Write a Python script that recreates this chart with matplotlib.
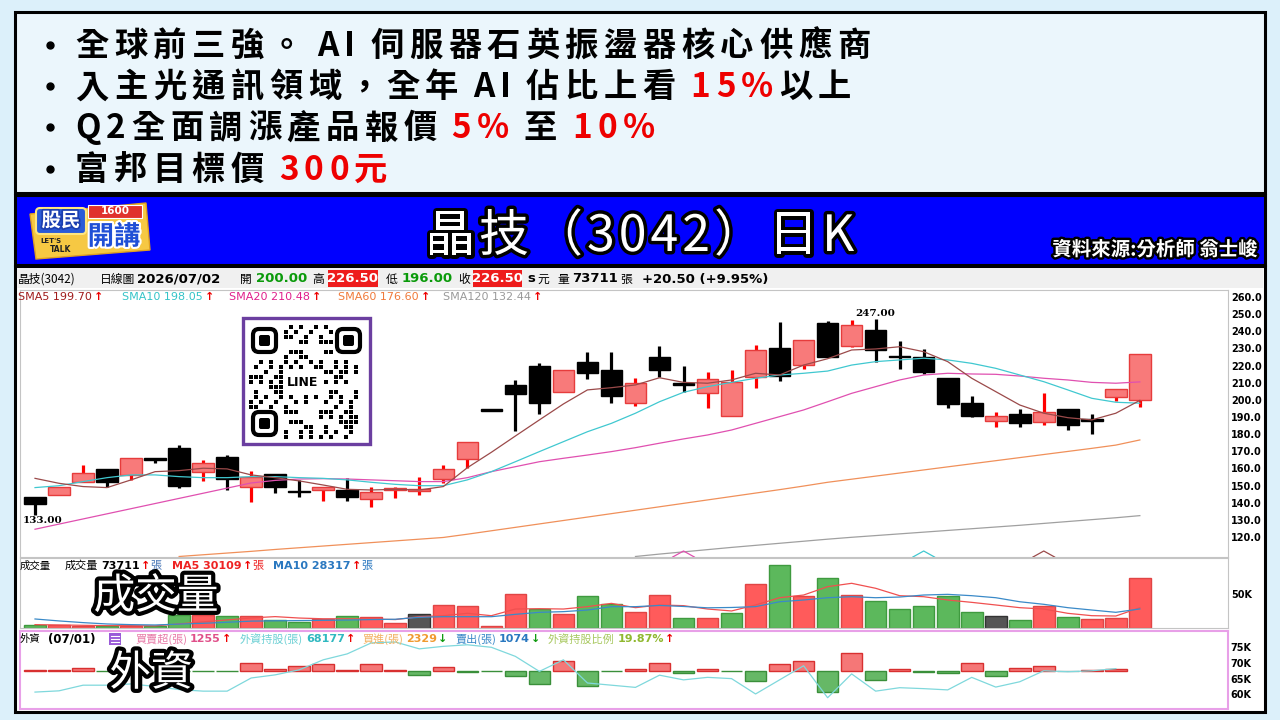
import matplotlib
matplotlib.use("Agg")
import numpy as np
import matplotlib.pyplot as plt
import matplotlib.patheffects as pe
from matplotlib.patches import Rectangle, FancyBboxPatch, Polygon

plt.rcParams['font.family'] = ['Noto Sans CJK TC', 'DejaVu Sans']

W, H = 1280, 720

# ---- daily candles ----
opens = [143.5, 144.5, 151.9, 159.7, 156.2, 166.1, 172.1, 157.7, 166.5, 149.4,
         156.6, 146.8, 147.4, 147.4, 142.2, 147.4, 147.0, 153.8, 165.3, 193.5,
         208.7, 220.0, 204.8, 222.3, 217.4, 198.4, 225.2, 209.8, 203.8, 190.8,
         213.5, 230.1, 220.3, 244.7, 231.6, 240.8, 225.7, 225.2, 212.9, 198.4,
         187.9, 191.8, 186.9, 194.5, 188.1, 201.9, 200.0]
closes = [139.1, 149.3, 157.2, 152.3, 165.9, 165.1, 149.9, 163.0, 153.8, 155.2,
          149.0, 146.2, 149.4, 143.5, 146.5, 148.2, 148.0, 159.7, 175.6, 193.5,
          203.3, 198.0, 217.6, 215.5, 202.5, 209.7, 217.4, 208.8, 212.0, 210.6,
          229.1, 214.1, 234.9, 224.8, 243.7, 229.1, 224.8, 216.1, 197.8, 190.4,
          190.6, 186.7, 193.1, 185.3, 187.7, 206.2, 226.5]
highs = [143.5, 149.3, 161.7, 159.7, 165.9, 166.1, 173.7, 164.9, 167.8, 158.7,
         156.6, 153.3, 149.4, 154.6, 149.4, 149.4, 155.2, 162.0, 175.6, 193.5,
         211.6, 221.3, 217.6, 228.1, 227.8, 213.0, 231.4, 220.0, 216.1, 217.4,
         232.0, 245.3, 234.9, 246.0, 246.5, 247.0, 234.4, 229.5, 212.9, 202.3,
         193.1, 194.7, 203.8, 194.5, 191.8, 206.2, 226.5]
lows = [133.0, 144.5, 151.9, 149.0, 153.3, 163.4, 148.4, 152.7, 147.4, 140.2,
        145.8, 143.5, 141.2, 141.2, 137.7, 142.6, 144.5, 151.3, 160.4, 193.5,
        181.8, 191.8, 204.8, 212.0, 198.0, 196.4, 213.5, 204.4, 195.1, 190.8,
        207.1, 211.0, 218.0, 224.8, 231.0, 222.3, 218.0, 215.1, 195.1, 189.8,
        184.2, 184.4, 185.3, 182.4, 180.1, 199.4, 196.0]

sma5 = [154.2, 151.3, 149.4, 148.8, 153.3, 158.1, 158.7, 160.1, 159.7, 156.2,
        154.6, 152.7, 150.3, 147.8, 147.4, 147.8, 147.4, 149.4, 160.4, 169.4,
        178.9, 188.3, 197.6, 205.8, 207.1, 208.7, 212.9, 210.2, 209.7, 211.6,
        215.5, 214.5, 220.3, 224.0, 229.1, 229.7, 231.0, 228.1, 222.3, 212.6,
        204.8, 197.0, 192.2, 189.6, 188.3, 192.2, 199.7]
sma10 = [148.8, 149.9, 152.3, 154.6, 156.2, 156.2, 155.2, 154.6, 154.6, 155.2,
         155.2, 154.6, 154.2, 153.3, 151.9, 150.7, 149.9, 149.9, 153.3, 158.1,
         163.9, 169.8, 175.6, 181.4, 186.3, 192.2, 198.9, 204.4, 207.7, 210.2,
         212.6, 214.5, 215.5, 216.8, 220.3, 222.3, 223.3, 224.3, 223.3, 221.3,
         218.4, 214.5, 210.6, 205.8, 200.9, 198.6, 198.05]
sma20 = [124.5, 127.5, 130.5, 133.5, 136.5, 139.5, 142.5, 145.5, 148.5, 151.5,
         153.0, 153.8, 154.0, 153.8, 153.3, 152.8, 152.3, 152.3, 154.6, 158.1,
         161.0, 163.9, 165.9, 167.8, 169.8, 172.1, 174.7, 177.2, 179.5, 182.4,
         186.3, 190.2, 194.1, 198.9, 203.8, 207.7, 211.6, 214.5, 215.5, 215.1,
         214.9, 213.9, 212.6, 211.6, 210.2, 209.7, 210.48]
sma60 = [None, None, None, None, None, None, 108.6, 109.6, 110.6, 111.6,
         112.7, 113.7, 114.7, 115.7, 116.7, 117.7, 118.7, 119.7, 121.6, 123.6,
         125.6, 127.6, 129.6, 131.6, 133.6, 135.6, 137.6, 139.6, 141.6, 143.6,
         145.6, 147.6, 149.7, 151.9, 153.7, 155.5, 157.3, 159.1, 160.9, 162.7,
         164.5, 166.3, 168.1, 169.9, 171.7, 173.6, 176.6]
sma120 = [None] * 25 + [108.6, 110.0, 111.3, 112.6, 113.9, 115.1, 116.3, 117.5,
                        118.7, 119.8, 120.8, 121.8, 122.8, 123.8, 124.8, 125.8,
                        126.8, 127.9, 129.0, 130.1, 131.2, 132.44]

# crossing signals drawn as small carets at the bottom of the price panel
sig_idx = [27, 37, 42]
sig_col = ['#e050b0', '#40c8d0', '#9b4a4a']

# ---- volume (K 張) ----
volume = [4.0, 4.0, 3.5, 2.5, 3.5, 2.5, 18.8, 18.8, 17.3, 17.3,
          12.4, 8.4, 12.9, 17.3, 16.3, 7.4, 21.3, 33.7, 32.2, 2.5,
          51.0, 28.7, 20.3, 47.0, 35.2, 23.3, 49.0, 14.4, 15.4, 21.8,
          65.4, 93.0, 48.0, 74.3, 49.0, 40.6, 28.7, 32.2, 47.0, 23.3,
          18.3, 11.9, 33.2, 16.3, 12.9, 14.4, 73.711]
vol_dir = list("grrgrggrgrggrgrrkrrrrgrggrrgrgrgrgrgggggkgrgrrr")
vol_ma5 = [5.0, 4.5, 4.0, 3.5, 3.5, 3.2, 6.0, 9.1, 12.0, 15.0,
           16.9, 14.8, 13.7, 13.7, 13.5, 12.5, 16.8, 18.3, 21.8, 18.3,
           28.2, 28.7, 28.2, 31.7, 36.6, 30.2, 34.2, 33.2, 28.2, 25.3,
           34.2, 45.0, 49.0, 61.4, 66.4, 59.0, 48.0, 46.5, 41.6, 38.1,
           34.2, 30.2, 28.2, 21.8, 18.3, 17.8, 30.1]
vol_ma10 = [13.4, 10.5, 8.0, 6.0, 5.0, 4.5, 5.8, 7.0, 8.5, 10.2,
            10.7, 11.0, 11.4, 11.8, 12.5, 13.0, 15.9, 16.8, 16.8, 16.8,
            20.3, 23.3, 24.3, 26.7, 31.7, 31.7, 33.5, 32.0, 30.0, 30.5,
            31.7, 39.0, 41.6, 45.0, 46.5, 45.0, 46.0, 49.0, 50.0, 48.0,
            45.0, 39.0, 35.2, 30.2, 26.7, 23.3, 28.3]

# ---- foreign investors (data up to 07/01) ----
fx_net = [500, 300, 1400, -200, -200, -200, -200, -200, -200, 4800,
          1200, 3000, 4200, 600, 3900, 300, -2800, 2000, -600, -200,
          -3400, -7800, 6000, -9400, -200, 1200, 4400, -1400, 1200, -200,
          -6400, 4000, 6000, -12600, 10700, -5400, 1200, -500, -1200, 4400,
          -3400, 1600, 3000, 0, 500, 1255]
fx_hold = [60.7, 61.1, 62.9, 62.9, 63.3, 62.5, 61.5, 61.0, 61.0, 65.2,
           66.2, 67.8, 71.0, 72.9, 76.4, 76.7, 74.5, 75.3, 75.8, 75.0,
           72.1, 67.3, 71.0, 63.6, 62.9, 62.2, 66.1, 64.6, 65.4, 65.0,
           60.1, 64.6, 69.1, 58.9, 66.5, 61.0, 62.1, 61.8, 61.4, 65.4,
           62.3, 64.0, 67.5, 67.2, 67.5, 68.18]

price_ticks = list(range(120, 261, 10))
fx_ticks = [60, 65, 70, 75]

headline = [
    [("全球前三強。 AI 伺服器石英振盪器核心供應商", 'black')],
    [("入主光通訊領域，全年 AI 佔比上看 ", 'black'), ("15%", '#ee0000'), ("以上", 'black')],
    [("Q2全面調漲產品報價 ", 'black'), ("5%", '#ee0000'), (" 至 ", 'black'), ("10%", '#ee0000')],
    [("富邦目標價 ", 'black'), ("300元", '#ee0000')],
]


def box(x0, y0, x1, y1):
    return [x0 / W, 1 - y1 / H, (x1 - x0) / W, (y1 - y0) / H]


fig = plt.figure(figsize=(12.8, 7.2), dpi=100)
fig.patch.set_facecolor('#dcf0fa')

bg = fig.add_axes([0, 0, 1, 1], zorder=0)
bg.set_xlim(0, W)
bg.set_ylim(H, 0)
bg.axis('off')
bg.add_patch(Rectangle((15, 12), 1250, 181, fc='#ebf6fc', ec='black', lw=2.2))
bg.add_patch(Rectangle((15, 195), 1250, 70, fc='#0000ff', ec='black', lw=2.2))
bg.add_patch(Rectangle((15, 266), 1250, 446, fc='white', ec='black', lw=2.2))
bg.add_patch(Rectangle((17, 268), 1246, 20, fc='#f0f0f0', ec='none'))

fg = fig.add_axes([0, 0, 1, 1], zorder=10)
fg.set_xlim(0, W)
fg.set_ylim(H, 0)
fg.axis('off')
rend = fig.canvas.get_renderer()
LAT = ['DejaVu Sans']


def outline(t, lw, col='black'):
    t.set_path_effects([pe.withStroke(linewidth=lw, foreground=col)])


def spaced(x, y, parts, size, track, weight='bold', stroke=None):
    em = size * 100 / 72
    for s, color in parts:
        for ch in s:
            if ch == ' ':
                x += em * 0.28
                continue
            t = fg.text(x, y, ch, fontsize=size, color=color, weight=weight,
                        ha='left', va='baseline')
            if stroke:
                outline(t, stroke)
            x = t.get_window_extent(rend).x1 + track
    return x


def seq(x, y, parts, size=8):
    for s, color, weight, gap, fam in parts:
        kw = {'family': fam} if fam else {}
        t = fg.text(x, y, s, fontsize=size, color=color, weight=weight,
                    ha='left', va='center', **kw)
        x = t.get_window_extent(rend).x1 + gap
    return x


# ---- headline box ----
for k, parts in enumerate(headline):
    base = 56 + k * 41.2
    fg.plot(50, base - 11, marker='o', ms=5, color='black')
    spaced(75, base, parts, 24, 5.5)

# ---- banner ----
spaced(425, 251, [("晶技（3042）日K", 'white')], 36, 4, weight='normal', stroke=5)
t = fg.text(1258, 250, "資料來源:分析師 翁士峻", fontsize=14, color='white',
            weight='bold', ha='right', va='center')
outline(t, 3.5)

# logo
fg.add_patch(Polygon([(30, 214), (146, 203), (150, 250), (36, 259)], closed=True,
                     fc='#f6c843', ec='#e0a020', lw=1))
fg.add_patch(FancyBboxPatch((36, 208), 50, 26, boxstyle='round,pad=0,rounding_size=4',
                            fc='#2a5bd7', ec='#ffe680', lw=1.5))
t = fg.text(61, 221, "股民", fontsize=14, color='white', weight='bold', ha='center', va='center')
outline(t, 2.5, '#1c3fb0')
fg.add_patch(Rectangle((88, 205), 54, 13, fc='#e0312d', ec='white', lw=0.8))
fg.text(115, 211.5, "1600", fontsize=7.5, color='white', weight='bold', ha='center',
        va='center', family=LAT)
fg.text(40, 241, "LET'S", fontsize=5, color='#222222', weight='bold', va='center', family=LAT)
fg.text(50, 250, "TALK", fontsize=5.5, color='#222222', weight='bold', va='center', family=LAT)
t = fg.text(114, 237, "開講", fontsize=19, color='#1f4fd6', weight='bold', ha='center', va='center')
outline(t, 3, 'white')

# ---- info row ----
ym = 279
info = [(18, "晶技(3042)", 'black', 'normal', None),
        (100, "日線圖", 'black', 'normal', None),
        (137, "2026/07/02", 'black', 'bold', LAT),
        (240, "開", 'black', 'normal', None),
        (256, "200.00", '#0a9a0a', 'bold', LAT),
        (312, "高", 'black', 'normal', None),
        (386, "低", 'black', 'normal', None),
        (402, "196.00", '#0a9a0a', 'bold', LAT),
        (458, "收", 'black', 'normal', None),
        (527, "s", 'black', 'bold', LAT),
        (537, "元", 'black', 'normal', None),
        (557, "量", 'black', 'normal', None),
        (572, "73711", 'black', 'bold', LAT),
        (620, "張", 'black', 'normal', None),
        (642, "+20.50 (+9.95%)", 'black', 'bold', LAT)]
for x0, s, col, wt, fam in info:
    kw = {'family': fam} if fam else {}
    fg.text(x0, ym, s, fontsize=9.5 if fam else 8.5, color=col, weight=wt,
            ha='left', va='center', **kw)
for x0, x1 in ((328, 378), (473, 522)):
    fg.add_patch(Rectangle((x0, 270), x1 - x0, 17, fc='#ee1c1c', ec='none'))
    fg.text((x0 + x1) / 2, ym, "226.50", fontsize=9.5, color='white', weight='bold',
            ha='center', va='center', family=LAT)

# ---- SMA legend ----
sma_lab = [(18, "SMA5 199.70", '#a01c1c'), (122, "SMA10 198.05", '#35c4c8'),
           (229, "SMA20 210.48", '#e0208c'), (338, "SMA60 176.60", '#f07a3a'),
           (443, "SMA120 132.44", '#9a9a9a')]
for x0, s, col in sma_lab:
    seq(x0, 297, [(s, col, 'normal', 2, LAT), ("↑", '#ee0000', 'bold', 0, LAT)], 8)

# ---- price panel ----
ax = fig.add_axes(box(20, 290, 1228, 557), zorder=2)
x = np.arange(len(opens))
o, c, h, l = (np.array(v, dtype=float) for v in (opens, closes, highs, lows))
up = c > o
for sel, wick, face, edge in ((up, '#ff0000', '#f87a7a', '#e63c3c'),
                              (~up, '#000000', '#000000', '#000000')):
    ax.vlines(x[sel], l[sel], h[sel], color=wick, lw=2.3, zorder=2)
    lo = np.minimum(o, c)[sel]
    hh = np.maximum(np.abs(c - o)[sel], 0.9)
    ax.bar(x[sel], hh, 0.9, bottom=lo, color=face, edgecolor=edge, lw=1, zorder=3)

for vals, col in ((sma120, '#a0a0a0'), (sma60, '#f0905a'), (sma20, '#e050b0'),
                  (sma10, '#40c8d0'), (sma5, '#9b4a4a')):
    ax.plot(x, np.array(vals, dtype=float), color=col, lw=0.9, zorder=4)

ax.set_xlim(-0.625, 49.67)
ax.set_ylim(108.3, 264.1)
for i, col in zip(sig_idx, sig_col):
    ax.plot([i - 0.45, i, i + 0.45], [108.3, 111.8, 108.3], color=col, lw=0.9, zorder=4)

imin = int(np.argmin(l))
imax = int(np.argmax(h))
ax.text(imin - 0.5, l[imin] - 3.6, f"{l[imin]:.2f}", fontsize=7.5, weight='bold',
        family=['DejaVu Serif'], ha='left', va='center', zorder=5)
ax.text(imax, h[imax] + 3.6, f"{h[imax]:.2f}", fontsize=7.5, weight='bold',
        family=['DejaVu Serif'], ha='center', va='center', zorder=5)

ax.set_yticks(price_ticks)
ax.set_yticklabels([f"{v:.1f}" for v in price_ticks], family=LAT, weight='bold', fontsize=7)
ax.yaxis.tick_right()
ax.tick_params(axis='y', length=0, pad=2)
ax.tick_params(axis='x', length=0, labelbottom=False)
for sp in ax.spines.values():
    sp.set_color('#c4c4c4')

# ---- volume panel ----
axv = fig.add_axes(box(20, 558, 1228, 628), zorder=2)
vcol = {'r': ('#ff5b5b', '#e04545'), 'g': ('#5cb85c', '#3f9a3f'), 'k': ('#555555', '#333333')}
axv.bar(x, volume, 0.9, color=[vcol[d][0] for d in vol_dir],
        edgecolor=[vcol[d][1] for d in vol_dir], lw=1, zorder=2)
axv.plot(x, vol_ma5, color='#f05050', lw=0.9, zorder=3)
axv.plot(x, vol_ma10, color='#3a8ac8', lw=0.9, zorder=3)
axv.set_xlim(-0.625, 49.67)
axv.set_ylim(0, 104)
axv.set_yticks([50])
axv.set_yticklabels(["50K"], family=LAT, weight='bold', fontsize=7)
axv.yaxis.tick_right()
axv.tick_params(axis='y', length=0, pad=2)
axv.tick_params(axis='x', length=0, labelbottom=False)
for sp in axv.spines.values():
    sp.set_color('#c4c4c4')

fg.text(20, 566, "成交量", fontsize=7.5, color='black', va='center')
seq(65, 566, [("成交量", 'black', 'normal', 3, None), ("73711", 'black', 'bold', 1, LAT),
              ("↑", '#ee0000', 'bold', 0, LAT), ("張", '#4a78b8', 'normal', 0, None)], 8)
seq(172, 566, [("MA5 30109", '#ee2222', 'bold', 1, LAT), ("↑", '#ee0000', 'bold', 0, LAT),
               ("張", '#ee2222', 'normal', 0, None)], 8)
seq(273, 566, [("MA10 28317", '#2a78c0', 'bold', 1, LAT), ("↑", '#ee0000', 'bold', 0, LAT),
               ("張", '#2a78c0', 'normal', 0, None)], 8)
t = fg.text(156, 597, "成交量", fontsize=30, color='white', ha='center', va='center')
outline(t, 6)

# ---- foreign investors panel ----
axf = fig.add_axes(box(20, 631, 1228, 709), zorder=2)
xf = np.arange(len(fx_net))
net = np.array(fx_net, dtype=float)
fcol = np.where(net > 0, '#f57777', np.where(net < 0, '#66b866', '#bbbbbb'))
fedge = np.where(net > 0, '#d83030', np.where(net < 0, '#3a8f3a', '#999999'))
axf.bar(xf, net, 0.9, color=fcol, edgecolor=fedge, lw=1, zorder=2)
axf.set_xlim(-0.625, 49.67)
axf.set_ylim(-23000, 23800)
axf.tick_params(length=0, labelbottom=False, labelleft=False)
for sp in axf.spines.values():
    sp.set_color('#e8a0e8')
    sp.set_linewidth(1.5)

axh = axf.twinx()
axh.plot(xf, fx_hold, color='#7fd8dc', lw=0.9, zorder=3)
axh.set_ylim(55.3, 80.2)
axh.set_yticks(fx_ticks)
axh.set_yticklabels([f"{v}K" for v in fx_ticks], family=LAT, weight='bold', fontsize=7)
axh.tick_params(axis='y', length=0, pad=2)
for sp in axh.spines.values():
    sp.set_visible(False)

fg.text(20, 639, "外資", fontsize=7.5, color='black', va='center')
fg.text(48, 639, "(07/01)", fontsize=8.5, color='black', weight='bold', va='center', family=LAT)
fg.add_patch(Rectangle((109, 633), 12, 12, fc='#9a5ad8', ec='none'))
for yy in (636, 639, 642):
    fg.plot([111, 119], [yy, yy], color='white', lw=0.8)
seq(135, 639, [("買賣超(張)", '#e87aa8', 'normal', 3, None), ("1255", '#e0508a', 'bold', 1, LAT),
               ("↑", '#ee0000', 'bold', 0, LAT)], 8)
seq(240, 639, [("外資持股(張)", '#6cd0d4', 'normal', 3, None), ("68177", '#30b8c0', 'bold', 1, LAT),
               ("↑", '#ee0000', 'bold', 0, LAT)], 8)
seq(362, 639, [("買進(張)", '#f2b060', 'normal', 3, None), ("2329", '#f09a30', 'bold', 1, LAT),
               ("↓", '#109a10', 'bold', 0, LAT)], 8)
seq(455, 639, [("賣出(張)", '#3a88c8', 'normal', 3, None), ("1074", '#2a78c0', 'bold', 1, LAT),
               ("↓", '#109a10', 'bold', 0, LAT)], 8)
seq(548, 639, [("外資持股比例", '#a8c860', 'normal', 3, None), ("19.87%", '#90b830', 'bold', 1, LAT),
               ("↑", '#ee0000', 'bold', 0, LAT)], 8)
t = fg.text(151, 674, "外資", fontsize=30, color='white', ha='center', va='center')
outline(t, 6)

# ---- LINE QR card ----
fg.add_patch(Rectangle((243, 318), 127, 126, fc='white', ec='#6b3fa0', lw=2.4))
finders = [(251, 327), (335, 327), (251, 410)]
for fx, fy in finders:
    fg.add_patch(FancyBboxPatch((fx + 2, fy + 2), 23, 23, boxstyle='round,pad=0,rounding_size=6',
                                fc='none', ec='black', lw=3))
    fg.add_patch(FancyBboxPatch((fx + 8, fy + 8), 11, 11, boxstyle='round,pad=0,rounding_size=2',
                                fc='black', ec='none'))
qx, qy = [], []
for r in range(23):
    for cc in range(22):
        px, py = 251 + cc * 5, 327 + r * 5
        if any(fx - 2 <= px <= fx + 30 and fy - 2 <= py <= fy + 30 for fx, fy in finders):
            continue
        if 282 <= px <= 324 and 372 <= py <= 392:
            continue
        if (cc * 7 + r * 11 + (cc * r) % 7) % 5 < 2:
            qx.append(px)
            qy.append(py)
fg.scatter(qx, qy, s=6, marker='s', c='black', linewidths=0)
fg.text(303, 382, "LINE", fontsize=9, weight='bold', color='black', ha='center',
        va='center', family=LAT)

fig.savefig("out.png", dpi=100)
